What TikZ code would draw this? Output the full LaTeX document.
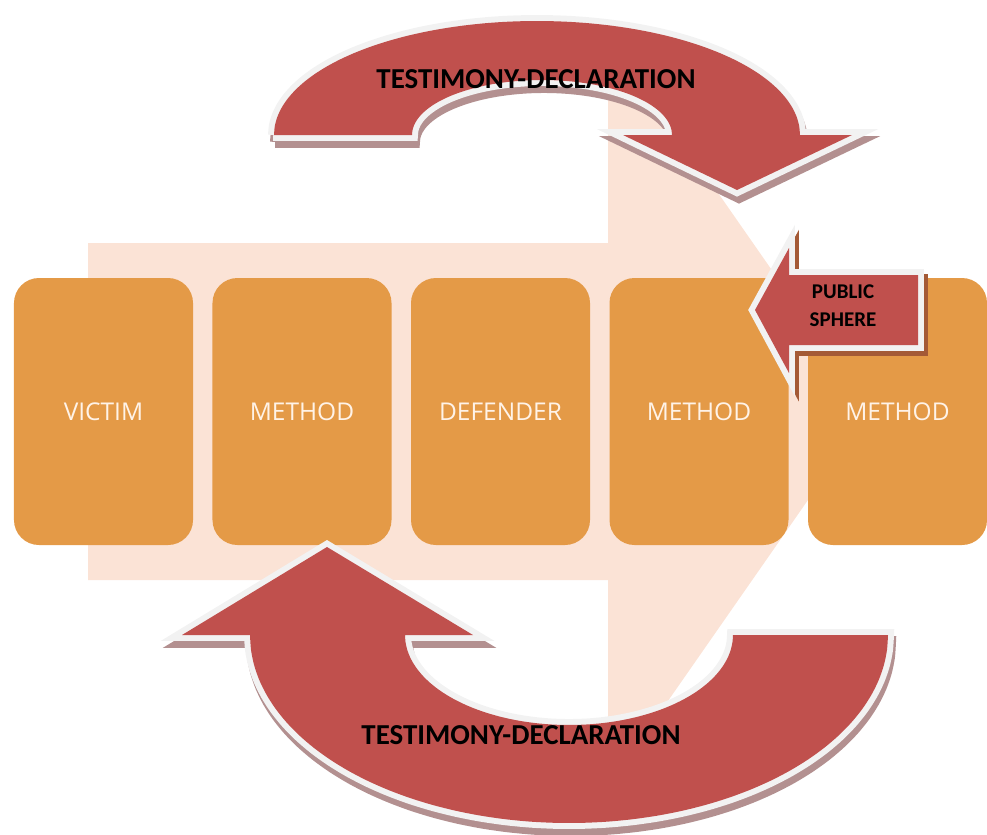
\documentclass[tikz,border=0pt]{standalone}
\usepackage{fontspec}
\setmainfont{Carlito}
\newfontfamily\boxfont{Open Sans}
\usetikzlibrary{positioning}

\definecolor{pinkbg}{HTML}{FBE3D6}
\definecolor{boxorange}{HTML}{E49A47}
\definecolor{boxtext}{HTML}{FFF3E8}
\definecolor{arrowred}{HTML}{C0504D}
\definecolor{rimwhite}{HTML}{F2F2F2}
\definecolor{shadegray}{HTML}{B39090}
\definecolor{shadebrown}{HTML}{A45A36}

\tikzset{
  stagebox/.style={rectangle, rounded corners=0.75cm, fill=boxorange,
    minimum width=5.37cm, minimum height=8.01cm, inner sep=0pt,
    text=boxtext, font=\boxfont\fontsize{20.9}{24}\selectfont},
  arrowshade/.style={fill=#1, draw=#1, line width=10.2pt},
  arrowrim/.style={fill=rimwhite, draw=rimwhite, line width=10.2pt},
  arrowbody/.style={fill=arrowred},
  arrowlabel/.style={font=\bfseries\fontsize{24.7}{28}\selectfont},
}

% curved arrow over the top
\newcommand{\toparrow}[1]{%
  \path[#1] (273,135) -- (412,135)
    -- plot[domain=0:180,smooth,samples=40,variable=\x] ({542-130*cos(\x)},{135-55*sin(\x)})
    -- (623,135) -- (737,190) -- (852,135) -- (800,135)
    -- plot[domain=0:180,smooth,samples=40,variable=\x] ({537+263*cos(\x)},{135-114*sin(\x)})
    -- cycle;}
% curved arrow under the boxes
\newcommand{\bottomarrow}[1]{%
  \path[#1] (250,635) -- (182,635) -- (327,547) -- (473,635) -- (405,635)
    -- plot[domain=0:180,smooth,samples=40,variable=\x] ({569-164*cos(\x)},{635+90*sin(\x)})
    -- (888,635)
    -- plot[domain=0:180,smooth,samples=40,variable=\x] ({569+319*cos(\x)},{635+188*sin(\x)})
    -- cycle;}
% small arrow pointing left
\newcommand{\publicarrow}[1]{%
  \path[#1] (918,275) -- (789,275) -- (789,248) -- (755,310) -- (789,373)
    -- (789,345) -- (918,345) -- cycle;}

\begin{document}
\begin{tikzpicture}[x=0.03cm,y=-0.03cm]
    \useasboundingbox (0,0) rectangle (987,834);

    % big arrow behind the boxes
    \fill[pinkbg] (88,243) -- (608,243) -- (608,35) -- (870,411)
        -- (608,787) -- (608,580) -- (88,580) -- cycle;

    \foreach \name/\txt [count=\i from 0] in {victim/VICTIM, methodA/METHOD,
        defender/DEFENDER, methodB/METHOD, methodC/METHOD}
        \node[stagebox] (\name) at ({103.5+198.5*\i},411.5) {\txt};

    \toparrow{arrowshade=shadegray, shift={(2,7)}}
    \toparrow{arrowrim}
    \toparrow{arrowbody}

    \bottomarrow{arrowshade=shadegray, shift={(2,7)}}
    \bottomarrow{arrowrim}
    \bottomarrow{arrowbody}

    \publicarrow{arrowshade=shadebrown, shift={(4,5)}}
    \publicarrow{arrowrim}
    \publicarrow{arrowbody}

    \node[arrowlabel] (toplabel) at (536,79) {TESTIMONY-DECLARATION};
    \node[arrowlabel] (bottomlabel) at (521,735) {TESTIMONY-DECLARATION};
    \node[font=\bfseries\fontsize{17.9}{23.8}\selectfont, align=center]
        (publiclabel) at (843,306) {PUBLIC\\SPHERE};
\end{tikzpicture}
\end{document}
